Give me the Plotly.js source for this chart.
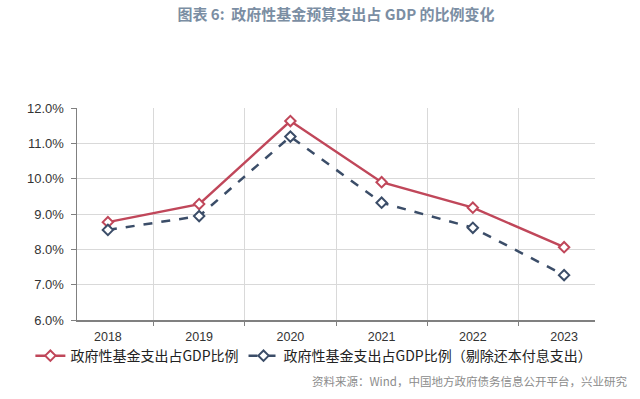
<!DOCTYPE html>
<html>
<head>
<meta charset="utf-8">
<script src="https://cdn.plot.ly/plotly-3.0.1.min.js"></script>
<style>html,body{margin:0;padding:0;background:#fff;}#chart{width:640px;height:399px;}</style>
</head>
<body>
<div id="chart"></div>
<script>
const years = ["2018", "2019", "2020", "2021", "2022", "2023"];
const spendRatio = [0.0877, 0.0928, 0.1163, 0.0990, 0.0918, 0.0806];
const spendRatioExDebt = [0.0855, 0.0894, 0.1119, 0.0932, 0.0861, 0.0727];
const seriesNames = ["政府性基金支出占GDP比例", "政府性基金支出占GDP比例（剔除还本付息支出）"];
const yTicks = [0.06, 0.07, 0.08, 0.09, 0.10, 0.11, 0.12];

const cjk = "Noto Sans CJK SC, sans-serif";

const traces = [
  {
    x: years, y: spendRatio, name: seriesNames[0], type: "scatter", mode: "lines+markers",
    line: {color: "#c0475a", width: 2.5},
    marker: {symbol: "diamond", size: 8, color: "#ffffff", line: {color: "#c0475a", width: 2}}
  },
  {
    x: years, y: spendRatioExDebt, name: seriesNames[1], type: "scatter", mode: "lines+markers",
    line: {color: "#3b4d68", width: 2.5, dash: "dash"},
    marker: {symbol: "diamond", size: 8, color: "#ffffff", line: {color: "#3b4d68", width: 2}}
  }
];

const layout = {
  width: 640, height: 399,
  margin: {l: 77, r: 45, t: 108, b: 79},
  paper_bgcolor: "#ffffff", plot_bgcolor: "#ffffff",
  title: {
    text: "<b>图表 6:  政府性基金预算支出占 GDP 的比例变化</b>",
    font: {family: cjk, size: 15, color: "#7b8ea3"},
    x: 0.5, xanchor: "center", y: 0.962, yanchor: "middle", xref: "paper"
  },
  xaxis: {
    type: "category", tickson: "boundaries",
    showgrid: true, gridcolor: "#d9d9d9", gridwidth: 1,
    showline: true, linecolor: "#808080", linewidth: 1.5,
    ticks: "outside", ticklen: 4, tickcolor: "#808080",
    ticklabelstandoff: 4,
    tickfont: {family: "Liberation Sans, sans-serif", size: 12.5, color: "#333333"},
    fixedrange: true
  },
  yaxis: {
    range: [0.06, 0.12], tickvals: yTicks, tickformat: ".1%",
    showgrid: true, gridcolor: "#d9d9d9", gridwidth: 1,
    showline: true, linecolor: "#808080", linewidth: 1.5,
    ticks: "outside", ticklen: 5, tickcolor: "#808080",
    ticklabelstandoff: 4,
    tickfont: {family: "Liberation Sans, sans-serif", size: 13, color: "#333333"},
    zeroline: false, fixedrange: true
  },
  showlegend: true,
  legend: {
    orientation: "h", x: -0.09, xanchor: "left", y: -0.17, yanchor: "middle",
    font: {family: "Noto Sans CJK SC, sans-serif", size: 14, color: "#222222"},
    bgcolor: "rgba(0,0,0,0)", itemwidth: 30, tracegroupgap: 0
  },
  annotations: [
    {
      text: "资料来源：Wind，中国地方政府债务信息公开平台，兴业研究",
      xref: "paper", yref: "paper", x: 1.066, y: -0.29, xanchor: "right", yanchor: "middle",
      showarrow: false, font: {family: cjk, size: 11.5, color: "#8c8c8c"}
    }
  ]
};

Plotly.newPlot("chart", traces, layout, {displayModeBar: false, staticPlot: true});
</script>
</body>
</html>
